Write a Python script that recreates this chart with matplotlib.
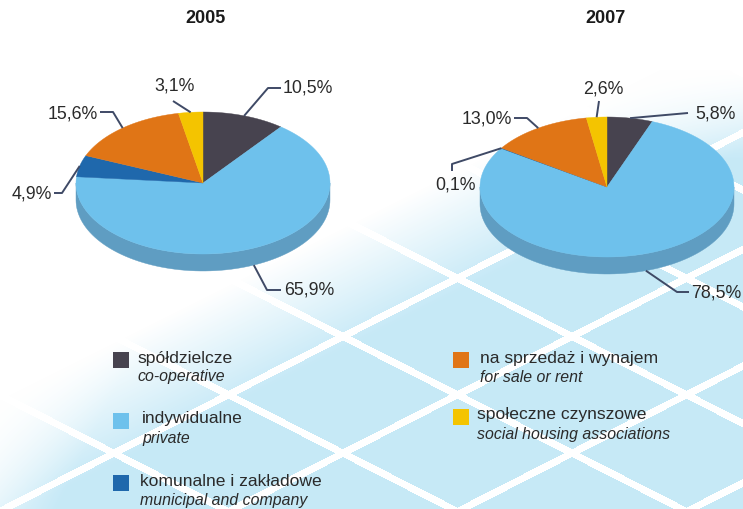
import numpy as np
import matplotlib
matplotlib.use('Agg')
import matplotlib.pyplot as plt
from matplotlib.patches import Polygon, Rectangle

plt.rcParams['font.family'] = ['Liberation Sans', 'DejaVu Sans']

# data
years = ['2005', '2007']
cat_pl = ['spółdzielcze', 'indywidualne', 'komunalne i zakładowe',
          'na sprzedaż i wynajem', 'społeczne czynszowe']
cat_en = ['co-operative', 'private', 'municipal and company',
          'for sale or rent', 'social housing associations']
share_2005 = [10.5, 65.9, 4.9, 15.6, 3.1]
share_2007 = [5.8, 78.5, 0.1, 13.0, 2.6]
colors = ['#47434f', '#6ec1ec', '#1f68ac', '#e07516', '#f4c400']
side_colors = ['#38353f', '#5f9dc2', '#18528a', '#b35e12', '#c39d00']

# figure in pixel coordinates
W, H = 743, 509
fig = plt.figure(figsize=(W / 100, H / 100), dpi=100)
ax = fig.add_axes([0, 0, 1, 1])
ax.set_xlim(0, W)
ax.set_ylim(H, 0)
ax.axis('off')

# background: faded diamond tiles
yy, xx = np.mgrid[0:H, 0:W] + 0.5
a = np.deg2rad(27)
P, gap = 104.0, 7.0
sA = xx * np.sin(a) + yy * np.cos(a)
sB = -xx * np.sin(a) + yy * np.cos(a)
tile = ((sA - 452) % P > gap) & ((sB - 244.6) % P > gap)
fade = np.clip((0.5 * xx + yy - 400) / 120, 0, 1)
fade *= np.clip((yy - 70) / 90, 0, 1)
fade *= np.clip((xx + 0.5 * yy - 190) / 120, 0, 1)
tint = tile * fade
tile_rgb = np.array([0.78, 0.915, 0.968])
bg = 1 - tint[..., None] * (1 - tile_rgb)
ax.imshow(bg, extent=(0, W, H, 0), zorder=0, interpolation='bilinear')


def ellipse_pt(cx, cy, rx, ry, th):
    return cx + rx * np.cos(th), cy - ry * np.sin(th)


def draw_pie(cx, cy, rx, ry, depth, values):
    fr = np.array(values) / np.sum(values)
    edges = np.concatenate([[0], np.cumsum(fr)])
    th = np.deg2rad(90 - 360 * edges)
    # side walls (front half only)
    for i in range(len(values)):
        t0, t1 = th[i + 1], th[i]
        for k in (-2, -1, 0, 1):
            lo, hi = t0 + 2 * np.pi * k, t1 + 2 * np.pi * k
            lo, hi = max(lo, -np.pi), min(hi, 0)
            if hi > lo:
                t = np.linspace(lo, hi, 80)
                x, y = ellipse_pt(cx, cy, rx, ry, t)
                pts = np.concatenate([np.c_[x, y], np.c_[x, y + depth][::-1]])
                ax.add_patch(Polygon(pts, closed=True, fc=side_colors[i],
                                     ec=side_colors[i], lw=0.3, zorder=2))
    # top face
    for i in range(len(values)):
        t = np.linspace(th[i], th[i + 1], 200)
        x, y = ellipse_pt(cx, cy, rx, ry, t)
        pts = np.concatenate([[[cx, cy]], np.c_[x, y]])
        ax.add_patch(Polygon(pts, closed=True, fc=colors[i], ec=colors[i],
                             lw=0.3, zorder=3))
    mids = np.deg2rad(90 - 360 * (edges[:-1] + fr / 2))
    anchors = []
    for m in mids:
        x, y = ellipse_pt(cx, cy, rx, ry, m)
        if np.sin(m) < 0:
            y += depth
        anchors.append((x, y))
    return anchors


def fmt(v):
    return ('%.1f%%' % v).replace('.', ',')


line_c = '#3f4a66'
text_c = '#2a2a2a'

# pie geometry and label layout: (elbow points, text x, text y, ha)
pies = [
    (share_2005, 203, 183, 127, 71, 17, 206, [
        ([(268, 88), (281, 88)], 283, 88, 'left'),
        ([(267, 290), (281, 290)], 284, 290, 'left'),
        ([(62, 193), (54, 193)], 52, 194, 'right'),
        ([(113, 112), (100, 112)], 98, 114, 'right'),
        ([(173, 101)], 175, 86, 'center'),
    ]),
    (share_2007, 607, 187, 127, 70, 17, 605, [
        ([(688, 113)], 695, 114, 'left'),
        ([(677, 292), (689, 292)], 691, 293, 'left'),
        ([(452, 164), (452, 171)], 455, 185, 'center'),
        ([(527, 118), (514, 118)], 512, 119, 'right'),
        ([(599, 101)], 603, 89, 'center'),
    ]),
]

for (vals, cx, cy, rx, ry, dp, title_x, layout), yr in zip(pies, years):
    anchors = draw_pie(cx, cy, rx, ry, dp, vals)
    ax.text(title_x, 18, yr, ha='center', va='center', fontsize=13,
            fontweight='bold', color='#1a1a1a', zorder=5)
    for v, anc, (pts, tx, ty, ha) in zip(vals, anchors, layout):
        path = np.array([anc] + pts)
        ax.plot(path[:, 0], path[:, 1], color=line_c, lw=1.4, zorder=4,
                solid_capstyle='butt')
        ax.text(tx, ty, fmt(v), ha=ha, va='center', fontsize=12.8,
                color=text_c, zorder=5)

# legend
leg_sq = [(113, 352), (113, 413), (113, 475), (453, 352), (453, 409)]
leg_tx = [137, 142, 140, 480, 477]
for i in range(len(cat_pl)):
    sx, sy = leg_sq[i]
    ax.add_patch(Rectangle((sx, sy), 16, 16, fc=colors[i], ec='none', zorder=4))
    ax.text(leg_tx[i], sy + 6, cat_pl[i], ha='left', va='center',
            fontsize=12.6, color=text_c, zorder=5)
    ax.text(leg_tx[i], sy + 25, cat_en[i], ha='left', va='center',
            fontsize=11.4, style='italic', color=text_c, zorder=5)

fig.savefig('out.png', dpi=100, facecolor='white')
